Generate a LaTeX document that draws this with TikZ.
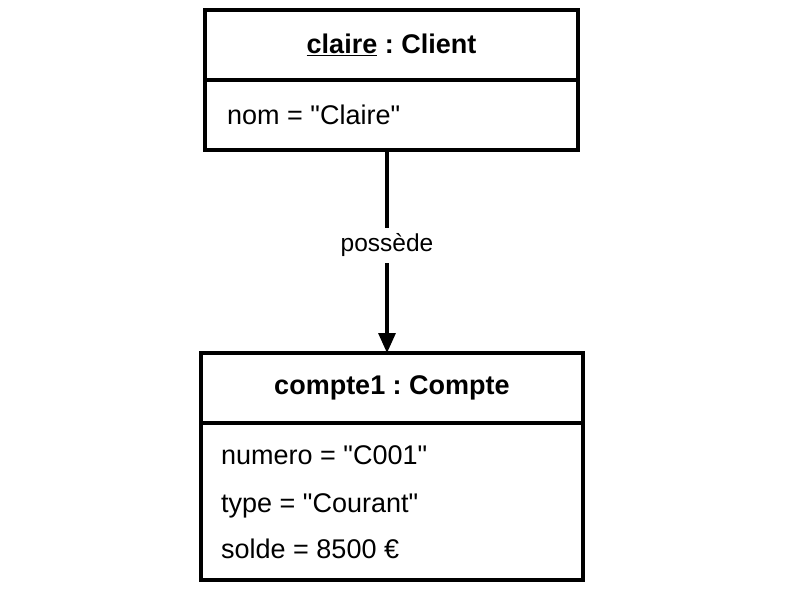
\documentclass[tikz,border=0pt]{standalone}
\usepackage{fontspec}
\setmainfont{Liberation Sans}[Ligatures=TeXOff]
\usetikzlibrary{arrows.meta,positioning}
\frenchspacing

\tikzset{
  objtitle/.style={draw, line width=3.2pt, minimum height=70pt, inner sep=0pt, outer sep=0pt,
    font=\fontsize{27}{32}\selectfont\bfseries},
  objattr/.style={draw, line width=3.2pt, inner sep=0pt, outer sep=0pt},
  attrtext/.style={anchor=base west, inner sep=0pt, font=\fontsize{27}{32}\selectfont},
  linklabel/.style={fill=white, inner sep=6pt, font=\fontsize{24.5}{29}\selectfont},
}

\begin{document}
\begin{tikzpicture}[x=1pt,y=-1pt]
            \useasboundingbox (0,0) rectangle (800,592);

            % Object claire
            \node [objtitle, minimum width=373pt] (claireTitle) at (391.5,45.0) {\raisebox{-3pt}{\underline{claire} : Client}};
            \node [objattr, minimum width=373pt, minimum height=70pt, anchor=north] (claireAttr) at (claireTitle.south) {};
            \node [attrtext] (claireNom) at (227.0,124.0) {nom = "Claire"};

            % Object compte1
            \node [objtitle, minimum width=382pt] (compteTitle) at (392.0,388.0) {\raisebox{-3pt}{compte1 : Compte}};
            \node [objattr, minimum width=382pt, minimum height=157pt, anchor=north] (compteAttr) at (compteTitle.south) {};
            \node [attrtext] (compteNumero) at (221.0,464.0) {numero = "C001"};
            \node [attrtext] (compteType) at (221.0,512.0) {type = "Courant"};
            \node [attrtext] (compteSolde) at (221.0,558.0) {solde = 8500 €};

            % Link possede
            \draw [line width=3.2pt, -{Triangle[length=20pt,width=17pt]}]
              ([xshift=-4.5pt]claireAttr.south) -- ([xshift=-4.5pt]claireAttr.south |- compteTitle.north)
              node [linklabel, pos=0.47] (possede) {possède};
\end{tikzpicture}
\end{document}
